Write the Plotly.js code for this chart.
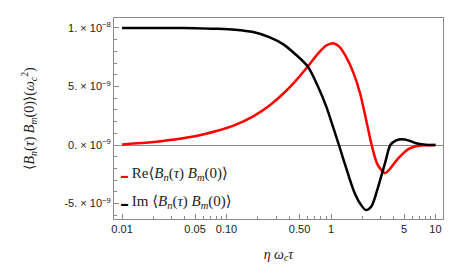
<!DOCTYPE html>
<html>
<head>
<meta charset="utf-8">
<script src="https://cdn.plot.ly/plotly-3.0.1.min.js"></script>
<style>
  body { margin: 0; background: #fff; }
  #gd { width: 464px; height: 277px; }
</style>
</head>
<body>
<div id="gd"></div>
<script>
// eta * omega_c * tau
var etaWcTau = [0.01, 0.02, 0.03, 0.05, 0.08, 0.12, 0.18, 0.26, 0.35, 0.45, 0.6, 0.75, 0.9, 1.05,
                1.2, 1.4, 1.65, 1.9, 2.15, 2.45, 2.8, 3.3, 3.7, 4.2, 4.8, 5.5, 6.5, 8, 10];
// correlator values, in units of 1e-9
var reCorr = [0.05, 0.25, 0.45, 0.75, 1.2, 1.7, 2.45, 3.4, 4.4, 5.4, 6.7, 7.8, 8.5, 8.7,
              8.4, 7.5, 6.1, 4.4, 2.3, 0, -1.7, -2.4, -2.0, -1.35, -0.8, -0.35, -0.1, -0.02, 0];
var imCorr = [10.0, 10.0, 10.0, 9.98, 9.93, 9.85, 9.65, 9.2, 8.6, 7.8, 6.7, 5.0, 3.3, 1.5,
              -0.1, -2.0, -3.9, -5.0, -5.55, -5.2, -3.7, -1.5, 0.0, 0.4, 0.5, 0.4, 0.15, 0.03, 0];

var xTickVals = [0.01, 0.05, 0.1, 0.5, 1, 5, 10];
var xTickText = ['0.01', '0.05', '0.10', '0.50', '1', '5', '10'];
var xMinorVals = [0.02, 0.03, 0.04, 0.06, 0.07, 0.08, 0.09, 0.2, 0.3, 0.4, 0.6, 0.7, 0.8, 0.9,
                  2, 3, 4, 6, 7, 8, 9];
var yTickVals = [-5, 0, 5, 10];
var yTickText = ['-5. × 10<sup>−9</sup>', '0. × 10<sup>−9</sup>', '5. × 10<sup>−9</sup>', '1. × 10<sup>−8</sup>'];

var serif = 'Liberation Serif, DejaVu Serif, serif';
var sans = 'Liberation Sans, Arial, sans-serif';

var traces = [
    {
        x: etaWcTau, y: reCorr, mode: 'lines', name: 'Re',
        line: { color: '#ff0000', width: 2.5, shape: 'spline', smoothing: 0.8 }
    },
    {
        x: etaWcTau, y: imCorr, mode: 'lines', name: 'Im',
        line: { color: '#000000', width: 2.5, shape: 'spline', smoothing: 0.8 }
    }
];

var axisCommon = {
    showgrid: false,
    showline: true,
    linecolor: '#8a8a8a',
    linewidth: 1,
    mirror: true,
    ticks: 'inside',
    tickcolor: '#8a8a8a',
    ticklen: 5,
    tickfont: { family: sans, size: 11, color: '#222' }
};

var corrLabel = '⟨<i>B<sub>n</sub></i>(<i>τ</i>) <i>B<sub>m</sub></i>(0)⟩';

var layout = {
    width: 464,
    height: 277,
    margin: { l: 114, r: 21, t: 18, b: 58 },
    paper_bgcolor: '#fff',
    plot_bgcolor: '#fff',
    showlegend: false,
    xaxis: Object.assign({}, axisCommon, {
        type: 'log',
        range: [-2.077, 1.072],
        tickmode: 'array',
        tickvals: xTickVals,
        ticktext: xTickText,
        minor: { tickmode: 'array', tickvals: xMinorVals, ticks: 'inside', ticklen: 3, tickcolor: '#8a8a8a' },
        zeroline: false,
        title: { text: '<i>η ω<sub>c</sub>τ</i>', font: { family: serif, size: 14, color: '#222' }, standoff: 14 }
    }),
    yaxis: Object.assign({}, axisCommon, {
        range: [-6.32, 10.85],
        tickmode: 'array',
        tickvals: yTickVals,
        ticktext: yTickText,
        minor: { dtick: 1, ticks: 'inside', ticklen: 3, tickcolor: '#8a8a8a' },
        zeroline: true,
        zerolinecolor: '#8a8a8a',
        zerolinewidth: 1
    }),
    annotations: [
        {
            xref: 'paper', yref: 'paper', x: -0.26, y: 0.5, xanchor: 'center', yanchor: 'middle',
            textangle: -90, showarrow: false, font: { family: serif, size: 14, color: '#222' },
            text: corrLabel + '(<i>ω<sub>c</sub></i><sup>2</sup>)'
        },
        {
            xref: 'paper', yref: 'paper', x: 0.015, y: 0.225, xanchor: 'left', yanchor: 'middle',
            showarrow: false, font: { family: serif, size: 15, color: '#222' },
            text: '<span style="color:#ff0000;font-size:7px">▬</span> Re' + corrLabel
        },
        {
            xref: 'paper', yref: 'paper', x: 0.015, y: 0.085, xanchor: 'left', yanchor: 'middle',
            showarrow: false, font: { family: serif, size: 15, color: '#222' },
            text: '<span style="color:#000;font-size:7px">▬</span> Im ' + corrLabel
        }
    ]
};

Plotly.newPlot('gd', traces, layout, { displayModeBar: false, staticPlot: true });
</script>
</body>
</html>
